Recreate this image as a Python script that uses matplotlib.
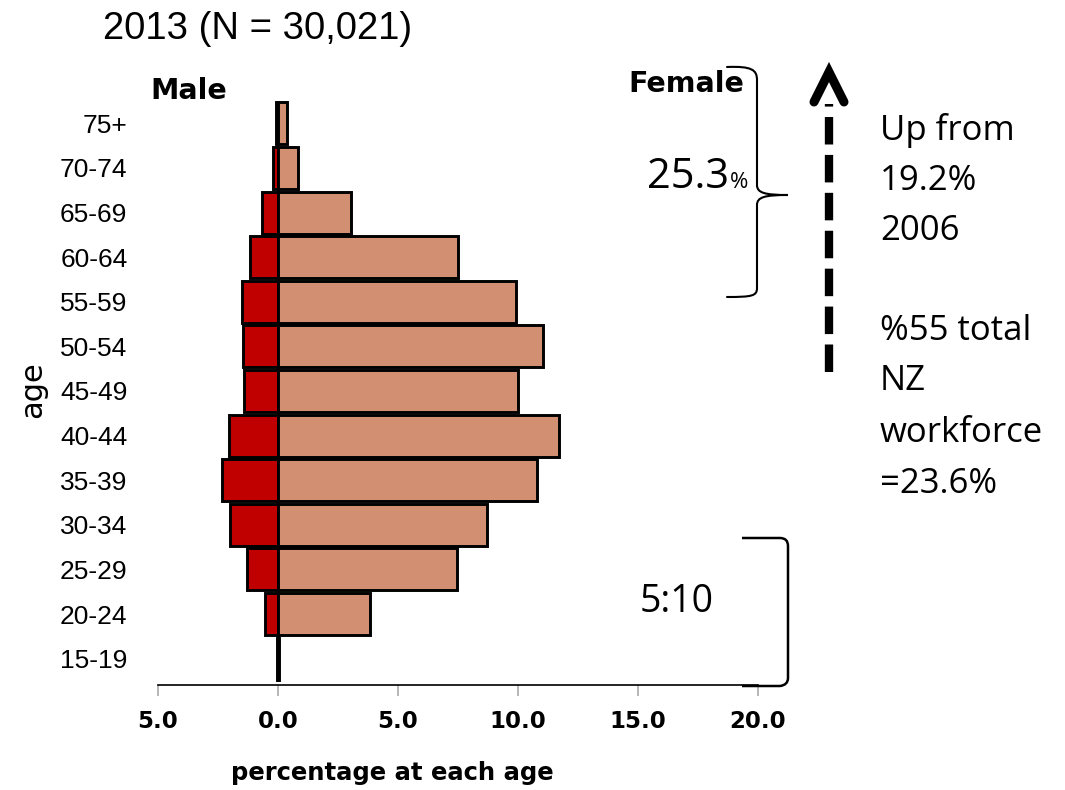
import matplotlib
matplotlib.use("Agg")
import matplotlib.pyplot as plt
from matplotlib.path import Path
from matplotlib.patches import PathPatch
from matplotlib.lines import Line2D
import numpy as np

# Age groups, youngest first (bottom of pyramid)
age_groups = ["15-19", "20-24", "25-29", "30-34", "35-39", "40-44", "45-49",
              "50-54", "55-59", "60-64", "65-69", "70-74", "75+"]
# Percentage of workforce in each age group
male_pct = [0.05, 0.54, 1.30, 2.00, 2.33, 2.04, 1.42, 1.46, 1.50, 1.17, 0.67, 0.22, 0.10]
female_pct = [0.05, 3.83, 7.45, 8.70, 10.80, 11.70, 10.00, 11.05, 9.90, 7.50, 3.05, 0.83, 0.38]
x_ticks = [-5, 0, 5, 10, 15, 20]
x_tick_labels = ["5.0", "0.0", "5.0", "10.0", "15.0", "20.0"]

W, H = 1065, 790
fig = plt.figure(figsize=(W / 100, H / 100), dpi=100)

def fx(px):
    return px / W

def fy(py):
    return 1 - py / H

# Axes occupy x 158..758 px, y 97..685 px
ax = fig.add_axes([fx(158), fy(685), fx(758) - fx(158), fy(97) - fy(685)])
y = np.arange(len(age_groups))
male_col = "#c00000"
female_col = "#d28f71"
ax.barh(y, [-v for v in male_pct], height=0.94, color=male_col,
        edgecolor="black", linewidth=2.1, zorder=2)
ax.barh(y, female_pct, height=0.94, color=female_col,
        edgecolor="black", linewidth=2.1, zorder=3)

ax.set_xlim(-5, 20)
ax.set_ylim(-0.59, 12.59)
ax.set_yticks(y)
ax.set_yticklabels(age_groups, fontsize=19, family="Liberation Sans")
ax.tick_params(axis="y", length=0, pad=22)
ax.set_xticks(x_ticks)
ax.set_xticklabels(x_tick_labels, fontsize=16.5, fontweight="bold", family="DejaVu Sans")
ax.tick_params(axis="x", length=8, color="#aaaaaa", width=1.2, pad=10)
for s in ["top", "right", "left"]:
    ax.spines[s].set_visible(False)
ax.spines["bottom"].set_linewidth(1.2)
ax.set_xlabel("percentage at each age", fontsize=17.5, fontweight="bold",
              family="DejaVu Sans")
ax.xaxis.set_label_coords((392 - 158) / 600, (685 - 773) / 588)
ax.xaxis.label.set_va("center")
ax.set_ylabel("age", fontsize=22, family="DejaVu Sans")
ax.yaxis.set_label_coords((33 - 158) / 600, (685 - 390) / 588)
ax.yaxis.label.set_va("center")

# Titles and labels
fig.text(fx(103), fy(29), "2013 (N = 30,021)", fontsize=27.5, family="Liberation Sans",
         va="center", ha="left")
fig.text(fx(150), fy(91), "Male", fontsize=20.5, fontweight="bold",
         family="DejaVu Sans", va="center", ha="left")
fig.text(fx(744), fy(84), "Female", fontsize=20.5, fontweight="bold",
         family="DejaVu Sans", va="center", ha="right")

# 25.3% with a small percent sign
t = fig.text(fx(647), fy(188), "25.3", fontsize=30, family="Open Sans",
             va="baseline", ha="left")
fig.canvas.draw()
bb = t.get_window_extent()
fig.text(bb.x1 / W + 0.001, fy(188), "%", fontsize=16, family="Open Sans",
         va="baseline", ha="left")

fig.text(fx(640), fy(602), "5:10", fontsize=27, family="Open Sans",
         va="center", ha="left")

side_lines = ["Up from", "19.2%", "2006", "", "%55 total", "NZ", "workforce", "=23.6%"]
line_y = [131, 181, 231, 281, 331, 381, 433, 484]
for txt, yy in zip(side_lines, line_y):
    if txt:
        fig.text(fx(880), fy(yy), txt, fontsize=25, family="Open Sans",
                 va="center", ha="left")

# Curly brace around the 55+ groups
def P(px, py):
    return (fx(px), fy(py))

brace = Path(
    [P(727, 67), P(752, 66), P(757, 70), P(757, 80),
     P(757, 185),
     P(757, 193), P(765, 195), P(788, 195),
     P(765, 195), P(757, 197), P(757, 205),
     P(757, 288),
     P(757, 296), P(752, 297), P(727, 297)],
    [Path.MOVETO, Path.CURVE4, Path.CURVE4, Path.CURVE4,
     Path.LINETO,
     Path.CURVE4, Path.CURVE4, Path.CURVE4,
     Path.CURVE4, Path.CURVE4, Path.CURVE4,
     Path.LINETO,
     Path.CURVE4, Path.CURVE4, Path.CURVE4])
fig.add_artist(PathPatch(brace, transform=fig.transFigure, fill=False,
                         lw=1.5, edgecolor="black", capstyle="round"))

# Bracket around the young groups
bracket = Path(
    [P(742, 538), P(780, 538), P(788, 538), P(788, 546),
     P(788, 678),
     P(788, 685), P(780, 686), P(742, 686)],
    [Path.MOVETO, Path.LINETO, Path.CURVE3, Path.CURVE3,
     Path.LINETO,
     Path.CURVE3, Path.CURVE3, Path.LINETO])
fig.add_artist(PathPatch(bracket, transform=fig.transFigure, fill=False,
                         lw=1.8, edgecolor="black"))

# Dashed upward arrow
fig.add_artist(Line2D([fx(829), fx(829)], [fy(372), fy(104)],
                      transform=fig.transFigure, color="black", lw=6,
                      linestyle=(0, (3.3, 1.25)), solid_capstyle="butt",
                      dash_capstyle="butt"))
fig.add_artist(Line2D([fx(814), fx(829), fx(844)], [fy(102), fy(72), fy(102)],
                      transform=fig.transFigure, color="black", lw=6.5,
                      solid_capstyle="round", solid_joinstyle="miter"))

fig.savefig("out.png", dpi=100)
